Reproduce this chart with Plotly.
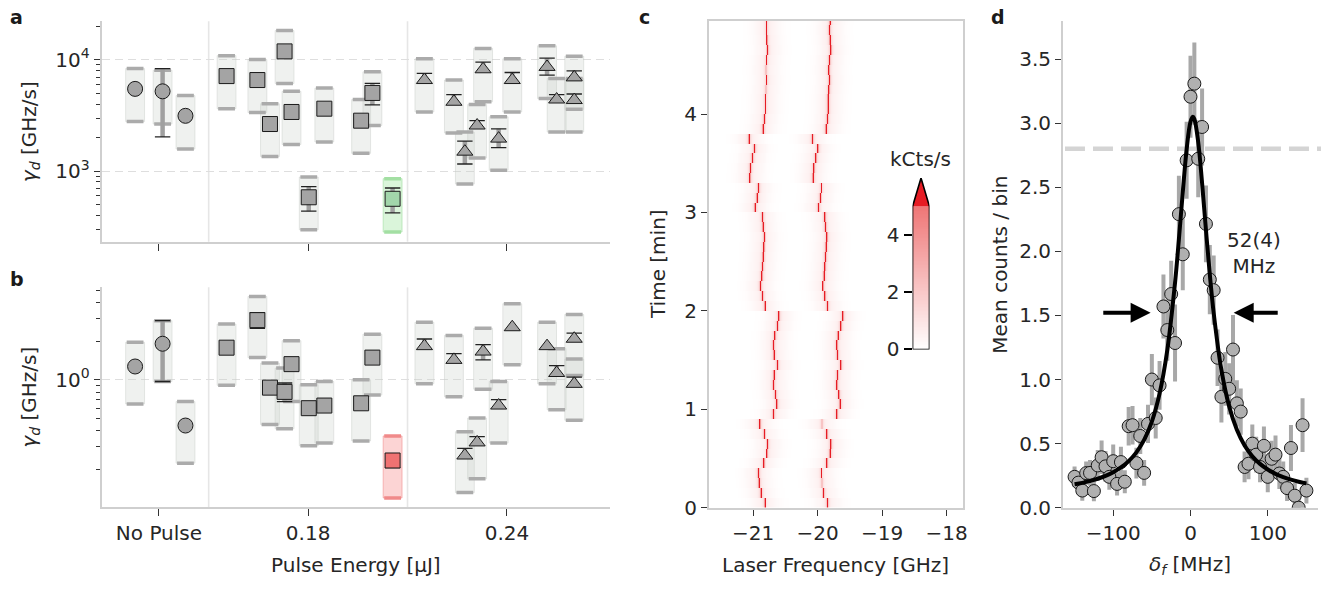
import numpy as np
import plotly.graph_objects as go

W, H = 1326, 589
FONT = "DejaVu Sans"
TXT = "#262626"

# ---------------- panels a / b data ----------------
x_pos = [0.1278, 0.1361, 0.1430, 0.1554, 0.1647, 0.1685, 0.1729, 0.1750, 0.1802, 0.1849,
         0.1960, 0.1994, 0.2055, 0.2151, 0.2240, 0.2273, 0.2310, 0.2328, 0.2375, 0.2416,
         0.2521, 0.2550, 0.2603, 0.2603]
symbols = ["circle"] * 3 + ["square"] * 10 + ["triangle-up"] * 11
highlight_idx = 12

a_val = [5480, 5210, 3140, 7140, 6580, 2650, 11900, 3400, 583, 3640, 2840, 5040, 565,
         6580, 4200, 1497, 2570, 8220, 1960, 6580, 8630, 4400, 6950, 4350]
a_box_lo = [2790, 2650, 1580, 3640, 3360, 1355, 6120, 1735, 298, 1830, 1445, 2570, 284,
            3400, 2200, 766, 1310, 4200, 1020, 3400, 4490, 2245, 3590, 2245]
a_box_hi = [8340, 8060, 4770, 10900, 10070, 4030, 18300, 5210, 886, 5570, 4400, 7800, 857,
            10200, 6580, 2245, 3975, 12650, 3080, 10200, 13350, 6810, 10770, 6810]
# error-bar ends (None where the bar is hidden behind the marker)
a_err_lo = [None, 2030, None, None, None, None, None, None, 437, None, None, 3930, 422,
            None, None, 1160, None, None, 1626, None, 7280, None, None, None]
a_err_hi = [None, 8340, None, None, None, None, None, None, 728, None, None, 6150, 706,
            7540, 4860, 1862, 2840, 9540, 2400, 7690, 10350, 4860, 7960, 4930]

b_val = [1.27, 1.91, 0.44, 1.78, 2.92, 0.869, 0.805, 1.325, 0.601, 0.630, 0.656, 1.49, 0.235,
         1.83, 1.43, 0.257, 0.325, 1.66, 0.63, 2.57, 1.83, 1.13, 2.09, 0.93]
b_box_lo = [0.649, 0.97, 0.224, 0.906, 1.49, 0.449, 0.415, 0.676, 0.306, 0.321, 0.334, 0.76, 0.12,
            0.932, 0.738, 0.132, 0.169, 0.845, 0.321, 1.31, 0.932, 0.584, 1.08, 0.484]
b_box_hi = [1.96, 2.89, 0.676, 2.72, 4.46, 1.35, 1.235, 2.02, 0.916, 0.97, 1.0, 2.27, 0.365,
            2.81, 2.22, 0.394, 0.504, 2.52, 0.97, 3.92, 2.81, 1.75, 3.23, 1.45]
b_err_lo = [None, 0.97, None, None, 2.52, None, 0.676, None, None, None, None, None, 0.207,
            None, None, None, None, 1.43, None, None, None, None, None, None]
b_err_hi = [None, 2.89, None, None, 3.34, None, 0.944, None, None, None, None, None, None,
            2.08, 1.60, 0.292, 0.361, 1.88, 0.70, None, None, 1.29, 2.31, 1.05]

group_ticks = [0.135, 0.18, 0.24]
group_labels = ["No Pulse", "0.18", "0.24"]
group_separators = [0.15, 0.21]

# ---------------- panel c data ----------------
time_bins = [round(0.05 + 0.1 * i, 2) for i in range(50)]
track_1 = [-20.82, -20.88, -20.91, -20.92, -20.84, -20.78, -20.77, -20.83, -20.90, -20.68,
           -20.63, -20.65, -20.68, -20.67, -20.62, -20.67, -20.68, -20.66, -20.62, -20.60,
           -20.82, -20.86, -20.89, -20.87, -20.86, -20.85, -20.84, -20.83, -20.85, -20.86,
           -20.97, -20.94, -20.92, -21.05, -21.04, -21.01, -20.98, -21.06, -20.85, -20.83,
           -20.81, -20.81, -20.80, -20.79, -20.80, -20.79, -20.77, -20.78, -20.79, -20.79]
track_2 = [-19.84, -19.90, -19.93, -19.94, -19.85, -19.80, -19.79, -19.85, -19.93, -19.70,
           -19.65, -19.67, -19.70, -19.69, -19.64, -19.69, -19.70, -19.68, -19.64, -19.61,
           -19.84, -19.88, -19.91, -19.89, -19.88, -19.87, -19.86, -19.85, -19.87, -19.88,
           -19.99, -19.96, -19.94, -20.07, -20.06, -20.03, -20.00, -20.08, -19.86, -19.84,
           -19.83, -19.83, -19.82, -19.81, -19.82, -19.81, -19.79, -19.80, -19.81, -19.80]

# ---------------- panel d data ----------------
d_x = [-150, -145, -140, -135, -130, -125, -120, -115, -110, -105, -100, -95, -90, -85, -80,
       -75, -70, -65, -60, -55, -50, -45, -40, -35, -30, -25, -20, -15, -10, -5, 0, 5, 10,
       15, 20, 25, 30, 35, 40, 45, 50, 55, 60, 65, 70, 75, 80, 85, 90, 95, 100, 105, 110,
       115, 120, 125, 130, 135, 140, 145, 150]
d_y = [0.241, 0.196, 0.134, 0.27, 0.272, 0.13, 0.33, 0.394, 0.323, 0.241, 0.363, 0.186,
       0.356, 0.203, 0.636, 0.644, 0.348, 0.56, 0.272, 0.654, 1.0, 0.70, 0.954, 1.57, 1.386,
       1.667, 1.285, 2.29, 1.977, 2.71, 3.206, 3.308, 2.722, 2.97, 2.214, 1.78, 1.697, 1.17,
       0.865, 1.005, 0.928, 1.234, 0.814, 0.75, 0.318, 0.343, 0.50, 0.414, 0.318, 0.483,
       0.241, 0.382, 0.414, 0.267, 0.241, 0.153, 0.466, 0.094, 0.0, 0.644, 0.134]
d_err = [0.08, 0.08, 0.08, 0.09, 0.10, 0.08, 0.12, 0.13, 0.12, 0.10, 0.13, 0.09, 0.12, 0.09,
         0.15, 0.15, 0.12, 0.14, 0.10, 0.15, 0.20, 0.16, 0.19, 0.25, 0.24, 0.26, 0.30, 0.30,
         0.28, 0.30, 0.32, 0.32, 0.30, 0.30, 0.30, 0.27, 0.27, 0.22, 0.20, 0.21, 0.20, 0.27,
         0.18, 0.18, 0.12, 0.12, 0.15, 0.14, 0.12, 0.15, 0.12, 0.14, 0.15, 0.12, 0.12, 0.10,
         0.18, 0.10, 0.08, 0.21, 0.10]
fit_x = [-150, -140, -130, -120, -110, -100, -90, -80, -70, -60, -50, -40, -30, -20, -15,
         -10, -5, 0, 3, 5, 10, 15, 20, 25, 30, 40, 50, 60, 70, 80, 90, 100, 110, 120, 130,
         140, 150]
fit_y = [0.183, 0.194, 0.209, 0.226, 0.248, 0.277, 0.314, 0.364, 0.432, 0.529, 0.672, 0.890,
         1.230, 1.755, 2.094, 2.46, 2.795, 3.011, 3.05, 3.033, 2.851, 2.532, 2.167, 1.819,
         1.52, 1.075, 0.791, 0.608, 0.486, 0.402, 0.342, 0.298, 0.264, 0.239, 0.219, 0.203,
         0.190]
threshold = 2.8
fwhm_label = "52(4)<br>MHz"

# ---------------- helpers ----------------
def fx(p):
    return p / W

def fy(p):
    return 1 - p / H

fig = go.Figure()

BOX_HALF = 0.00285
GRAY_MARK = "#a4a4a4"


def add_ab_panel(xa, ya, vals, blo, bhi, elo, ehi, hl_fill, hl_cap, hl_line, hl_mark):
    for i in range(len(vals)):
        hl = i == highlight_idx
        x0, x1 = x_pos[i] - BOX_HALF, x_pos[i] + BOX_HALF
        fig.add_trace(go.Scatter(
            x=[x0, x1, x1, x0, x0], y=[blo[i], blo[i], bhi[i], bhi[i], blo[i]],
            mode="lines", fill="toself",
            fillcolor=hl_fill if hl else "rgba(205,212,205,0.32)",
            line=dict(color=hl_line if hl else "rgba(200,205,200,0.45)", width=1),
            xaxis=xa, yaxis=ya, hoverinfo="skip", showlegend=False))
    # box caps
    for hl in (False, True):
        idx = [i for i in range(len(vals)) if (i == highlight_idx) == hl]
        fig.add_trace(go.Scatter(
            x=[x_pos[i] for i in idx] * 2,
            y=[blo[i] for i in idx] + [bhi[i] for i in idx],
            mode="markers",
            marker=dict(symbol="line-ew", size=12,
                        line=dict(color=hl_cap if hl else "#ababab", width=3.5)),
            xaxis=xa, yaxis=ya, hoverinfo="skip", showlegend=False))
    # gray error bars
    up = [(h - v) if h is not None else 0 for h, v in zip(ehi, vals)]
    dn = [(v - l) if l is not None else 0 for l, v in zip(elo, vals)]
    fig.add_trace(go.Scatter(
        x=x_pos, y=vals, mode="markers", marker=dict(size=1, color="rgba(0,0,0,0)"),
        error_y=dict(type="data", symmetric=False, array=up, arrayminus=dn,
                     color="#a0a0a0", thickness=4.5, width=0),
        xaxis=xa, yaxis=ya, hoverinfo="skip", showlegend=False))
    # black caps
    cx, cy = [], []
    for i in range(len(vals)):
        for e in (elo[i], ehi[i]):
            if e is not None:
                cx.append(x_pos[i])
                cy.append(e)
    fig.add_trace(go.Scatter(
        x=cx, y=cy, mode="markers",
        marker=dict(symbol="line-ew", size=11, line=dict(color="#222222", width=1.3)),
        xaxis=xa, yaxis=ya, hoverinfo="skip", showlegend=False))
    # markers
    sizes = [15 if s != "triangle-up" else 14 for s in symbols]
    fig.add_trace(go.Scatter(
        x=x_pos, y=vals, mode="markers",
        marker=dict(symbol=symbols, size=sizes, opacity=1,
                    color=[hl_mark if i == highlight_idx else GRAY_MARK for i in range(len(vals))],
                    line=dict(color="#1a1a1a", width=1)),
        xaxis=xa, yaxis=ya, hoverinfo="skip", showlegend=False))


add_ab_panel("x", "y", a_val, a_box_lo, a_box_hi, a_err_lo, a_err_hi,
             "rgba(150,225,150,0.35)", "#a3dfa3", "rgba(150,220,150,0.5)", "#a2d6ab")
add_ab_panel("x2", "y2", b_val, b_box_lo, b_box_hi, b_err_lo, b_err_hi,
             "rgba(245,120,120,0.32)", "#f08a8a", "rgba(240,130,130,0.5)", "#f07272")

# ---------------- panel c heatmap ----------------
freq = np.arange(-21.685, -17.745, 0.015)
z = np.zeros((len(time_bins), len(freq)))
for i in range(len(time_bins)):
    for c in (track_1[i], track_2[i]):
        d = freq - c
        z[i] += 5.15 * np.exp(-0.5 * (d / 0.0075) ** 2) + 1.1 * np.exp(-0.5 * (d / 0.025) ** 2) \
            + 0.55 * np.exp(-0.5 * (d / 0.14) ** 2)

cscale = [[0.0, "rgb(255,255,255)"], [5 / 6, "rgb(239,118,118)"],
          [5 / 6 + 0.001, "rgb(230,28,36)"], [1.0, "rgb(230,28,36)"]]
fig.add_trace(go.Heatmap(
    z=z, x=freq, y=time_bins, colorscale=cscale, zmin=0, zmax=6, showscale=False,
    xaxis="x3", yaxis="y3", hoverinfo="skip"))

# colorbar drawn as its own small axis
cb_levels = [round(0.025 + 0.05 * k, 3) for k in range(100)]
fig.add_trace(go.Heatmap(
    z=[[v] for v in cb_levels], x=[0.5], y=cb_levels, colorscale=cscale, zmin=0, zmax=6,
    showscale=False, xaxis="x5", yaxis="y5", hoverinfo="skip"))
fig.add_trace(go.Scatter(
    x=[0, 1, 0.5, 0], y=[5, 5, 6, 5], mode="lines", fill="toself",
    fillcolor="rgb(230,28,36)", line=dict(width=0), xaxis="x5", yaxis="y5",
    hoverinfo="skip", showlegend=False))
fig.add_trace(go.Scatter(
    x=[0, 1, 1, 0.5, 0, 0], y=[0, 0, 5, 6, 5, 0], mode="lines",
    line=dict(color="black", width=1.6), xaxis="x5", yaxis="y5",
    hoverinfo="skip", showlegend=False))

# ---------------- panel d ----------------
fig.add_trace(go.Scatter(
    x=d_x, y=d_y, mode="markers", marker=dict(size=1, color="rgba(0,0,0,0)"),
    error_y=dict(type="data", array=d_err, color="#a8a8a8", thickness=4, width=0),
    xaxis="x4", yaxis="y4", hoverinfo="skip", showlegend=False))
fig.add_trace(go.Scatter(
    x=d_x, y=d_y, mode="markers",
    marker=dict(symbol="circle", size=13, color="#b0b0b0", opacity=1,
                line=dict(color="#1a1a1a", width=1)),
    xaxis="x4", yaxis="y4", hoverinfo="skip", showlegend=False))
fig.add_trace(go.Scatter(
    x=fit_x, y=fit_y, mode="lines", line=dict(color="black", width=4, shape="spline"),
    xaxis="x4", yaxis="y4", hoverinfo="skip", showlegend=False))

# ---------------- axes ----------------
tickfont = dict(family=FONT, size=20, color=TXT)
spine = dict(showline=True, linecolor="#cfcfcf", linewidth=2)
tk = dict(ticks="outside", tickcolor="#333333", tickwidth=1.3)

xa_dom = [fx(102), fx(612)]
fig.update_layout(
    xaxis=dict(domain=xa_dom, range=[0.1177, 0.271], tickvals=group_ticks, showticklabels=False,
               ticklen=7, showgrid=False, zeroline=False, anchor="y", **spine, **tk),
    yaxis=dict(domain=[fy(246.7), fy(21.7)], type="log", range=[2.367, 4.346],
               tickvals=[1000, 10000], ticktext=["10<sup>3</sup>", "10<sup>4</sup>"],
               ticklen=6, tickfont=tickfont, showgrid=True, gridcolor="#dedede",
               griddash="8px,5px", gridwidth=1.3, zeroline=False, anchor="x",
               minor=dict(tickvals=[300, 400, 500, 600, 700, 800, 900, 2000, 3000, 4000,
                                    5000, 6000, 7000, 8000, 9000, 20000],
                          ticks="outside", ticklen=3.5, tickcolor="#333333", showgrid=False),
               **spine, **tk),
    xaxis2=dict(domain=xa_dom, range=[0.1177, 0.271], tickvals=group_ticks, ticktext=group_labels,
                ticklen=7, tickfont=tickfont, showgrid=False, zeroline=False, anchor="y2",
                **spine, **tk),
    yaxis2=dict(domain=[fy(518), fy(293.3)], type="log", range=[-0.995, 0.721],
                tickvals=[1], ticktext=["10<sup>0</sup>"], ticklen=6, tickfont=tickfont,
                showgrid=True, gridcolor="#dedede", griddash="8px,5px", gridwidth=1.3,
                zeroline=False, anchor="x2",
                minor=dict(tickvals=[0.2, 0.3, 0.4, 0.5, 0.6, 0.7, 0.8, 0.9, 2, 3, 4, 5],
                           ticks="outside", ticklen=3.5, tickcolor="#333333", showgrid=False),
                **spine, **tk),
    xaxis3=dict(domain=[fx(711.7), fx(966.7)], range=[-21.685, -17.745],
                tickvals=[-21, -20, -19, -18], ticklen=6, tickfont=tickfont, showgrid=False,
                zeroline=False, mirror=True, anchor="y3", **spine, **tk),
    yaxis3=dict(domain=[fy(518.3), fy(21)], range=[0, 4.95], tickvals=[0, 1, 2, 3, 4],
                ticklen=6, tickfont=tickfont, showgrid=False, zeroline=False, mirror=True,
                anchor="x3", **spine, **tk),
    xaxis4=dict(domain=[fx(1067), fx(1323)], range=[-165, 165], tickvals=[-100, 0, 100],
                ticklen=6, tickfont=tickfont, showgrid=False, zeroline=False, anchor="y4",
                **spine, **tk),
    yaxis4=dict(domain=[fy(518.3), fy(21)], range=[0, 3.8],
                tickvals=[0, 0.5, 1, 1.5, 2, 2.5, 3, 3.5],
                ticktext=["0.0", "0.5", "1.0", "1.5", "2.0", "2.5", "3.0", "3.5"],
                ticklen=6, tickfont=tickfont, showgrid=False, zeroline=False, anchor="x4",
                **spine, **tk),
    xaxis5=dict(domain=[fx(916), fx(933)], range=[0, 1], visible=False, anchor="y5"),
    yaxis5=dict(domain=[fy(356.7), fy(181.7)], range=[0, 6], tickvals=[0, 2, 4],
                ticks="outside", ticklen=8, tickcolor="black", tickwidth=1.6,
                tickfont=tickfont, showgrid=False, zeroline=False, showline=False,
                anchor="x5"),
)

shapes = []
for ya in ("y", "y2"):
    for s in group_separators:
        shapes.append(dict(type="line", xref="x" if ya == "y" else "x2", yref=ya + " domain",
                           x0=s, x1=s, y0=0, y1=1, layer="below",
                           line=dict(color="#e6e6e6", width=1.6)))
shapes.append(dict(type="line", xref="paper", yref="y4", x0=fx(1069), x1=1.0,
                   y0=threshold, y1=threshold, layer="below",
                   line=dict(color="#d4d4d4", width=4.5, dash="20px,8px")))

ann = []
def txt(x, y, s, size=20, bold=False, angle=0, xref="paper", yref="paper", align="center"):
    ann.append(dict(x=x, y=y, xref=xref, yref=yref, text=f"<b>{s}</b>" if bold else s,
                    showarrow=False, textangle=angle, align=align,
                    font=dict(family=FONT, size=size, color="#1a1a1a" if bold else TXT),
                    xanchor="center", yanchor="middle"))

txt(fx(17), fy(17), "a", size=19, bold=True)
txt(fx(17), fy(285), "b", size=19, bold=True)
txt(fx(647), fy(17), "c", size=19, bold=True)
txt(fx(1002), fy(17), "d", size=19, bold=True)
txt(fx(30), fy(134), "<i>γ</i><sub><i>d</i></sub> [GHz/s]", angle=-90)
txt(fx(30), fy(405), "<i>γ</i><sub><i>d</i></sub> [GHz/s]", angle=-90)
txt(fx(357), fy(577), "Pulse Energy [μJ]")
txt(fx(661), fy(270), "Time [min]", angle=-90)
txt(fx(839), fy(577), "Laser Frequency [GHz]")
txt(fx(1004), fy(270), "Mean counts / bin", angle=-90)
txt(fx(1195), fy(577), "<i>δ</i><sub><i>f</i></sub> [MHz]")
txt(fx(924), fy(162), "kCts/s")
txt(81.7, 1.99, fwhm_label, xref="x4", yref="y4")

for (xt, xs) in ((-51.6, -114.8), (55.9, 114.8)):
    ann.append(dict(x=xt, y=1.52, ax=xs, ay=1.52, xref="x4", yref="y4", axref="x4",
                    ayref="y4", text="", showarrow=True, arrowhead=2, arrowsize=1,
                    arrowwidth=4, arrowcolor="black"))

fig.update_layout(
    width=W, height=H, margin=dict(l=0, r=0, t=0, b=0),
    paper_bgcolor="white", plot_bgcolor="rgba(0,0,0,0)",
    font=dict(family=FONT, size=20, color=TXT),
    showlegend=False, shapes=shapes, annotations=ann,
)

fig.write_html("out.html")
